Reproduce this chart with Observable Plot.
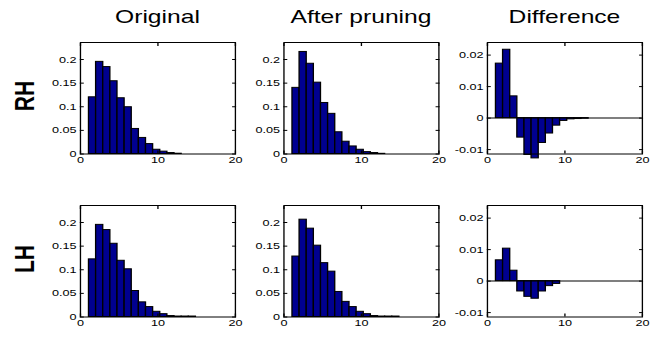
<!DOCTYPE html>
<html>
<head>
<meta charset="utf-8">
<script src="https://cdn.jsdelivr.net/npm/d3@7"></script>
<script src="https://cdn.jsdelivr.net/npm/@observablehq/plot@0.6"></script>
<style>
html, body { margin: 0; padding: 0; background: #fff; }
#fig { position: relative; width: 493px; height: 338px; transform: scaleX(1.33); transform-origin: 0 0;
       font-family: "Liberation Sans", Arial, sans-serif; color: #000; }
.panel { position: absolute; }
.title { position: absolute; font-size: 18.5px; line-height: 1; white-space: nowrap; transform: translateX(-50%); }
.rowlab { position: absolute; font-size: 21px; font-weight: bold; line-height: 1; white-space: nowrap;
          transform: translate(-50%, -50%) rotate(-90deg); }
</style>
</head>
<body>
<div id="fig"></div>
<script>
// ---- data ----
const columnTitles = ["Original", "After pruning", "Difference"];
const rowLabels = ["RH", "LH"];
const binCenters = [1.58, 2.50, 3.42, 4.34, 5.26, 6.18, 7.10, 8.02, 8.94, 9.86, 10.78, 11.70, 12.62, 13.54, 14.46];
const binWidth = 0.92;

const rhOriginal = [0.120, 0.195, 0.184, 0.154, 0.118, 0.099, 0.053, 0.034, 0.021, 0.009, 0.005, 0.002, 0.0006];
const rhPruned   = [0.140, 0.216, 0.191, 0.151, 0.108, 0.085, 0.046, 0.026, 0.016, 0.009, 0.004, 0.002, 0.0004];
const rhDiff     = [0.0173, 0.0217, 0.0069, -0.0062, -0.0117, -0.0128, -0.0079, -0.0049, -0.0024, -0.0009, -0.0004, -0.0003, -0.0002];

const lhOriginal = [0.122, 0.195, 0.184, 0.155, 0.119, 0.101, 0.055, 0.031, 0.021, 0.011, 0.006, 0.002, 0.001, 0.001, 0.001];
const lhPruned   = [0.128, 0.206, 0.187, 0.151, 0.114, 0.096, 0.053, 0.032, 0.021, 0.011, 0.006, 0.002, 0.001, 0.001, 0.001];
const lhDiff     = [0.0066, 0.0103, 0.0033, -0.0033, -0.0050, -0.0056, -0.0033, -0.0016, -0.0009];

const xTicks = [0, 10, 20];
const xTickLabels = ["0", "10", "20"];
const histYTicks = [0, 0.05, 0.1, 0.15, 0.2];
const histYTickLabels = ["0", "0.05", "0.1", "0.15", "0.2"];
const diffYTicks = [-0.01, 0, 0.01, 0.02];
const diffYTickLabels = ["-0.01", "0", "0.01", "0.02"];

// ---- layout (unstretched coordinates; whole figure is stretched horizontally) ----
const panelLefts = [60.15, 213.16, 366.17];
const panelTops = [42, 205];
const W = 116.5, H = 111.5, ML = 28, MR = 8, MT = 4, MB = 14;
const barFill = "#000090";

function makePanel(values, yDomain, yTicks, yLabels, diff) {
  const bars = values.map((v, i) => ({x1: binCenters[i] - binWidth / 2, x2: binCenters[i] + binWidth / 2, v}));
  const fmtY = d => yLabels[yTicks.indexOf(d)];
  const fmtX = d => xTickLabels[xTicks.indexOf(d)];
  const blank = () => "";
  return Plot.plot({
    width: ML + W + MR, height: MT + H + MB,
    marginLeft: ML, marginRight: MR, marginTop: MT, marginBottom: MB,
    x: {domain: [0, 20]},
    y: {domain: yDomain},
    style: {fontFamily: "'Liberation Sans', Arial, sans-serif", fontSize: "9.5px", color: "black", background: "transparent", overflow: "visible"},
    marks: [
      Plot.rect(bars, {x1: "x1", x2: "x2", y1: 0, y2: "v", fill: barFill, stroke: "black", strokeWidth: 1}),
      diff ? Plot.ruleY([0], {stroke: "black", strokeWidth: 1}) : null,
      Plot.frame({stroke: "black", strokeWidth: 1}),
      Plot.axisY(yTicks, {anchor: "left", tickSize: 0, tickPadding: 3, tickFormat: fmtY, label: null}),
      Plot.axisX(xTicks, {anchor: "bottom", tickSize: 0, tickPadding: 2, tickFormat: fmtX, label: null}),
      Plot.axisY(yTicks, {anchor: "left", tickSize: 3, dx: 3, tickFormat: blank, label: null}),
      Plot.axisY(yTicks, {anchor: "right", tickSize: 3, dx: -3, tickFormat: blank, label: null}),
      Plot.axisX(xTicks, {anchor: "bottom", tickSize: 3, dy: -3, tickFormat: blank, label: null}),
      Plot.axisX(xTicks, {anchor: "top", tickSize: 3, dy: 3, tickFormat: blank, label: null})
    ]
  });
}

const fig = document.getElementById("fig");
const histDomain = [0, 0.236];
const diffDomain = [-0.0114, 0.024];
const rows = [
  [rhOriginal, rhPruned, rhDiff],
  [lhOriginal, lhPruned, lhDiff]
];
rows.forEach((row, r) => {
  row.forEach((vals, c) => {
    const diff = c === 2;
    const svg = makePanel(vals, diff ? diffDomain : histDomain,
      diff ? diffYTicks : histYTicks, diff ? diffYTickLabels : histYTickLabels, diff);
    const holder = document.createElement("div");
    holder.className = "panel";
    holder.style.left = (panelLefts[c] - ML) + "px";
    holder.style.top = (panelTops[r] - MT) + "px";
    holder.appendChild(svg);
    fig.appendChild(holder);
  });
});

columnTitles.forEach((t, c) => {
  const d = document.createElement("div");
  d.className = "title";
  d.textContent = t;
  d.style.left = (panelLefts[c] + W / 2) + "px";
  d.style.top = "8px";
  fig.appendChild(d);
});

rowLabels.forEach((t, r) => {
  const d = document.createElement("div");
  d.className = "rowlab";
  d.textContent = t;
  d.style.left = "17.7px";
  d.style.top = (panelTops[r] + H / 2 - 2) + "px";
  fig.appendChild(d);
});
</script>
</body>
</html>
